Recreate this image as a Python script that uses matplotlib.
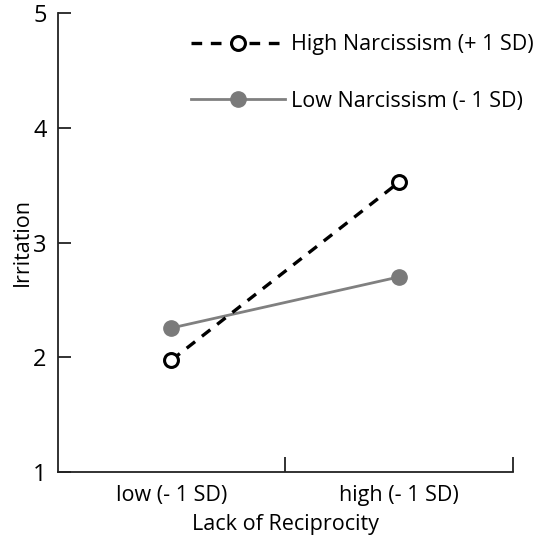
import matplotlib
matplotlib.use("Agg")
import matplotlib.pyplot as plt

categories = ["low (- 1 SD)", "high (- 1 SD)"]
high_narc = [1.975, 3.525]
low_narc = [2.255, 2.70]
y_ticks = [1, 2, 3, 4, 5]
x_label = "Lack of Reciprocity"
y_label = "Irritation"
series_labels = ["High Narcissism (+ 1 SD)", "Low Narcissism (- 1 SD)"]

plt.rcParams['font.family'] = ['Open Sans', 'DejaVu Sans']

fig = plt.figure(figsize=(5.37, 5.45), dpi=100)
W, H = 537, 545
ax = fig.add_axes([57.7 / W, 1 - 472 / H, (512.7 - 57.7) / W, (472 - 13) / H])

x = list(range(len(categories)))
ax.plot(x, high_narc, linestyle=(0, (3.2, 2.6)), color="black", linewidth=2.4,
        marker="o", markersize=10, markerfacecolor="white",
        markeredgecolor="black", markeredgewidth=2.2, label=series_labels[0], zorder=3)
ax.plot(x, low_narc, linestyle="-", color="#808080", linewidth=2.0,
        marker="o", markersize=11, markerfacecolor="#7a7a7a",
        markeredgecolor="#7a7a7a", label=series_labels[1], zorder=2)

ax.set_xlim(-0.5, 1.5)
ax.set_ylim(1, 5)
ax.set_yticks(y_ticks)
ax.set_xticks(x)
ax.set_xticklabels(categories)
ax.set_xticks([0.5, 1.5], minor=True)

for s in ["top", "right"]:
    ax.spines[s].set_visible(False)
for s in ["left", "bottom"]:
    ax.spines[s].set_linewidth(1.3)
    ax.spines[s].set_color("#222222")

ax.tick_params(axis="y", direction="in", length=9, width=1.3, color="#222222",
               labelsize=17, pad=8)
ax.tick_params(axis="x", which="major", length=0, labelsize=15.5, pad=9)
ax.tick_params(axis="x", which="minor", direction="in", length=11, width=1.3,
               color="#222222")

ax.set_xlabel(x_label, fontsize=15.5, labelpad=6)
ax.set_ylabel(y_label, fontsize=15.5, labelpad=0)

leg = ax.legend(loc="upper right", bbox_to_anchor=(1.089, 0.996), frameon=False,
                fontsize=15.5, handlelength=4.35, handletextpad=0.3,
                labelspacing=1.65)

fig.savefig("out.png", dpi=100)
